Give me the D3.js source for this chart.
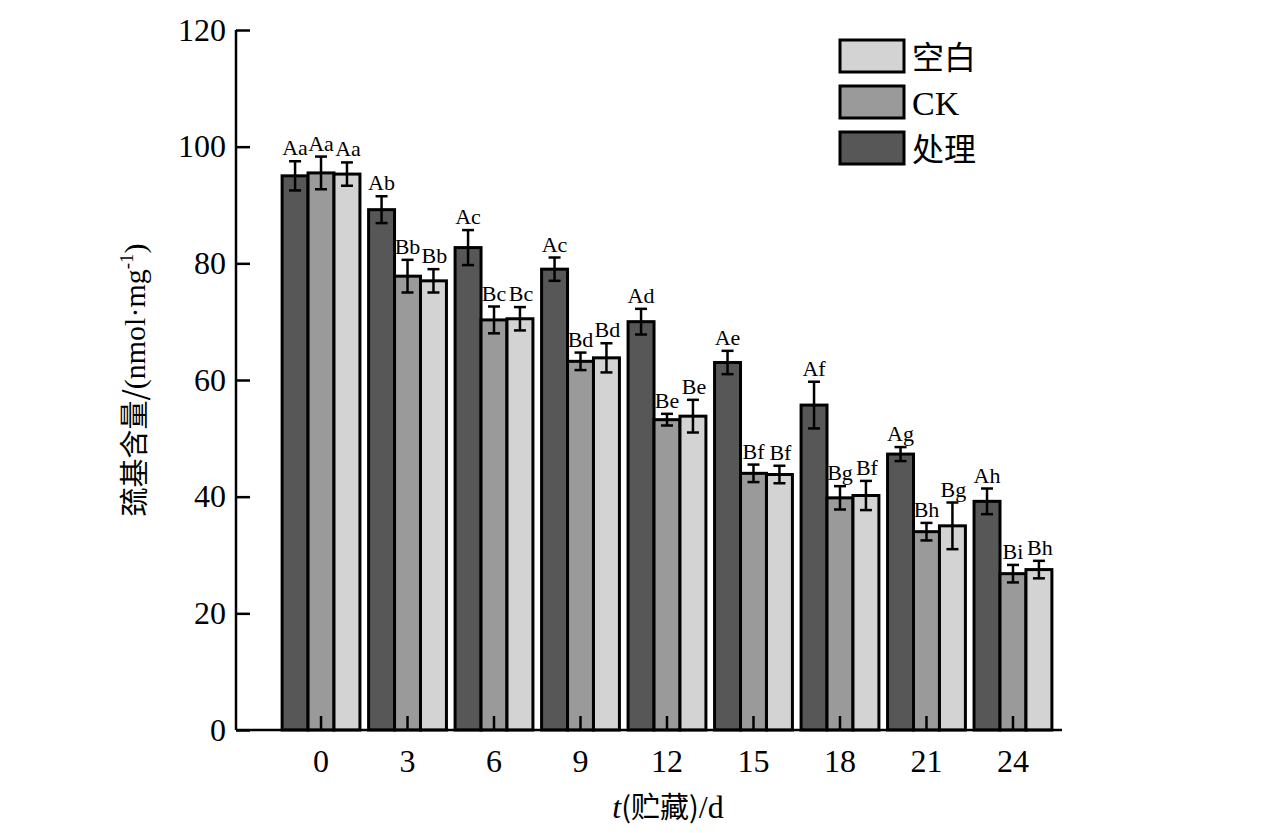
<!DOCTYPE html><html><head><meta charset="utf-8"><script src="https://cdn.jsdelivr.net/npm/d3@7"></script>
<style>body{margin:0;background:#fff}</style></head><body><svg id="c" width="1276" height="833"></svg>
<script>
const days=["0","3","6","9","12","15","18","21","24"];
const series=["处理","CK","空白"];
const colors=["#575757","#9a9a9a","#d3d3d3"];
const vTreat=[95,89.2,82.7,79,70,63,55.7,47.3,39.2];
const vCK=[95.5,77.8,70.3,63.2,53.2,44,39.8,34,26.8];
const vBlank=[95.3,77,70.5,63.8,53.8,43.8,40.2,35,27.5];
const eTreat=[2.5,2.3,3,2,2.2,2,4,1.2,2.2];
const eCK=[2.8,2.8,2.3,1.5,1,1.5,2,1.5,1.5];
const eBlank=[2,2,2,2.5,2.8,1.5,2.5,4,1.5];
const lTreat=["Aa","Ab","Ac","Ac","Ad","Ae","Af","Ag","Ah"];
const lCK=["Aa","Bb","Bc","Bd","Be","Bf","Bg","Bh","Bi"];
const lBlank=["Aa","Bb","Bc","Bd","Be","Bf","Bf","Bg","Bh"];
const yTicks=[0,20,40,60,80,100,120];
const vals=[vTreat,vCK,vBlank],errs=[eTreat,eCK,eBlank],labs=[lTreat,lCK,lBlank];
const svg=d3.select("#c");
const F="'Liberation Serif','Times New Roman',serif";
const x=d3.scaleBand().domain(days).range([236,1098]).paddingInner(0.1).paddingOuter(0.533);
const xs=d3.scaleBand().domain([0,1,2]).range([0,x.bandwidth()]);
const y=d3.scaleLinear().domain([0,120]).range([730,30]);
const g=svg.append("g");
days.forEach((d,i)=>{
  [0,1,2].forEach(s=>{
    const x0=x(d)+xs(s),w=xs.bandwidth(),v=vals[s][i],e=errs[s][i];
    g.append("rect").attr("x",x0).attr("y",y(v)).attr("width",w).attr("height",y(0)-y(v))
     .attr("fill",colors[s]).attr("stroke","#000").attr("stroke-width",3);
    const cx=x0+w/2;
    g.append("line").attr("x1",cx).attr("x2",cx).attr("y1",y(v+e)).attr("y2",y(v-e)).attr("stroke","#000").attr("stroke-width",2.5);
    [v+e,v-e].forEach(t=>g.append("line").attr("x1",cx-6).attr("x2",cx+6).attr("y1",y(t)).attr("y2",y(t)).attr("stroke","#000").attr("stroke-width",2.5));
    g.append("text").attr("x",cx+(s==2?1:0)).attr("y",y(v+e)-6).attr("text-anchor","middle").attr("font-family",F).attr("font-size",22).text(labs[s][i]);
  });
});
const ya=svg.append("g").attr("transform","translate(236,0)").call(d3.axisRight(y).tickValues(yTicks).tickSize(14).tickFormat(d3.format("d")));
ya.selectAll("text").attr("x",-10).attr("text-anchor","end").attr("font-family",F).attr("font-size",32).attr("fill","#000");
const xa=svg.append("g").attr("transform","translate(0,730)").call(d3.axisTop(x).tickSize(14));
xa.selectAll("text").attr("y",42).attr("font-family",F).attr("font-size",32).attr("fill","#000");
svg.selectAll(".domain,.tick line").attr("stroke","#000").attr("stroke-width",2.5);
ya.select(".domain").attr("d","M0,730V30");
xa.select(".domain").attr("d","M236,0H1062");
svg.append("text").attr("x",668).attr("y",818).attr("text-anchor","middle").attr("font-family",F).attr("font-size",32)
 .html("<tspan font-style='italic'>t</tspan><tspan font-family=\"'Noto Sans CJK SC'\" font-size='29'>(贮藏)</tspan>/d");
svg.append("text").attr("transform","translate(145,380) rotate(-90)").attr("text-anchor","middle").attr("font-family",F).attr("font-size",30)
 .html("<tspan font-family=\"'Noto Sans CJK SC'\" font-size='29'>巯基含量/</tspan>(nmol·mg<tspan dy='-12' font-size='19'>-1</tspan><tspan dy='12'>)</tspan>");
const leg=[[2,"空白"],[1,"CK"],[0,"处理"]];
leg.forEach(([s,t],k)=>{
  const ly=40+k*46;
  svg.append("rect").attr("x",840).attr("y",ly).attr("width",64).attr("height",32).attr("fill",colors[s]).attr("stroke","#000").attr("stroke-width",3);
  svg.append("text").attr("x",912).attr("y",ly+29).attr("font-family",t=="CK"?F:"'Noto Sans CJK SC'").attr("font-size",t=="CK"?34:32).text(t);
});
</script></body></html>
